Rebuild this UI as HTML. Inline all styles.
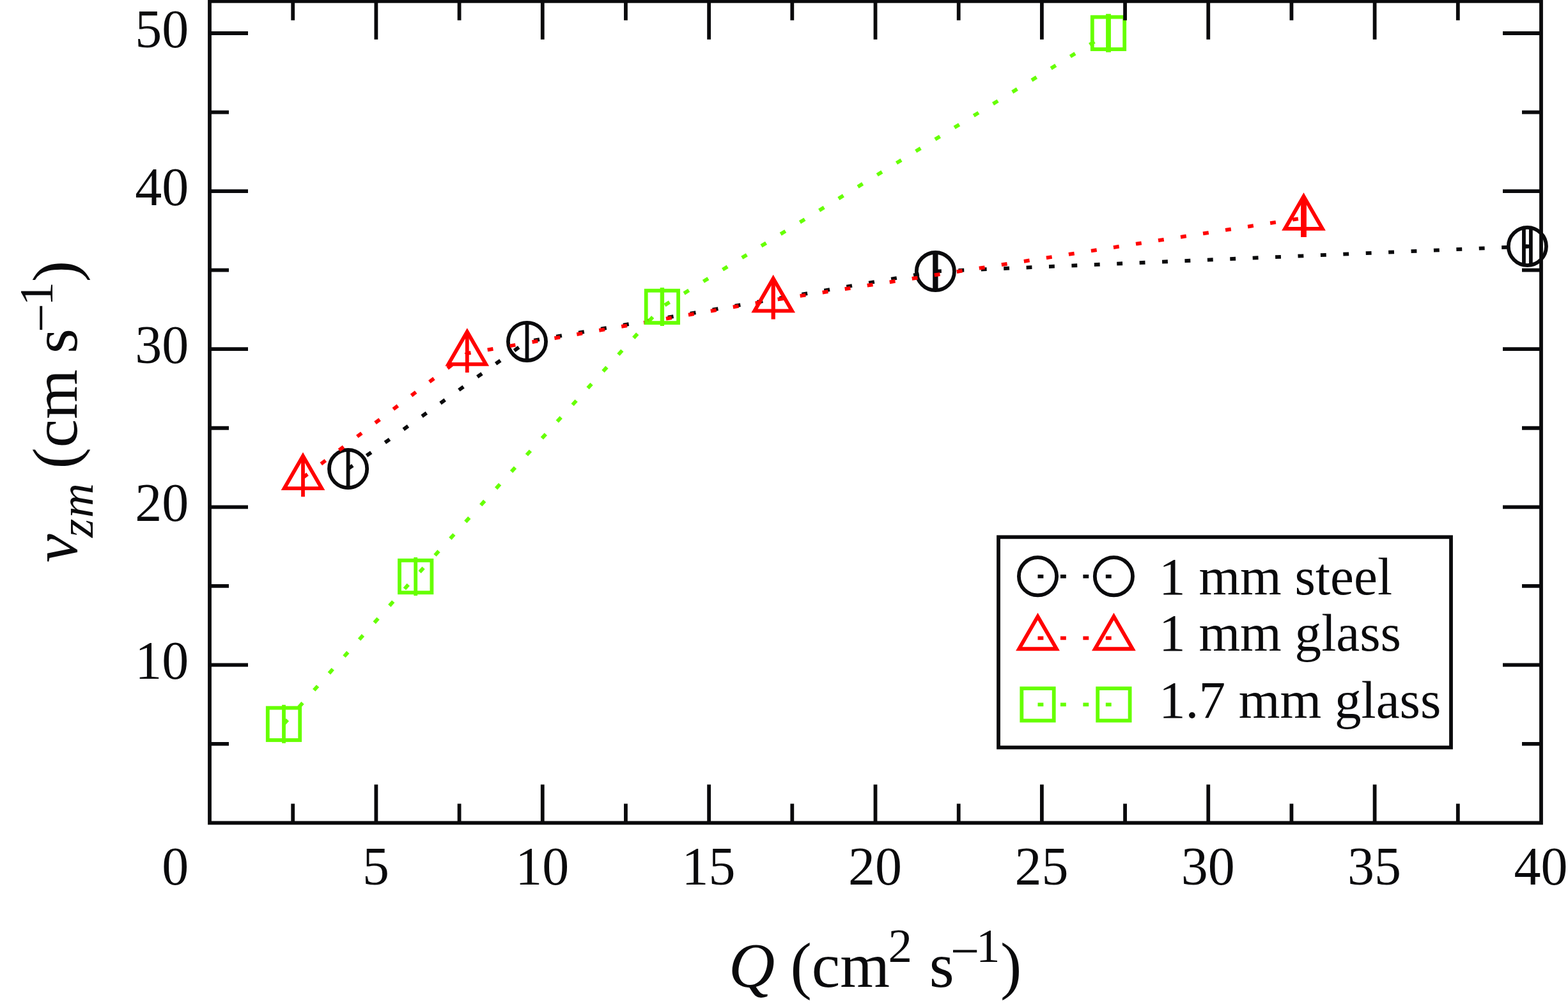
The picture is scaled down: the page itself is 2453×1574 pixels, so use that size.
<!DOCTYPE html>
<html lang="en"><head><meta charset="utf-8"><title>v_zm versus Q</title>
<style>html,body{margin:0;padding:0;background:#fff;}body{width:2453px;height:1574px;overflow:hidden;}svg{display:block;}text{font-family:"Liberation Serif",serif;fill:#0a0a0c;}</style></head><body>
<svg width="2453" height="1574" viewBox="0 0 2453 1574">
<rect x="0" y="0" width="2453" height="1574" fill="#ffffff"/>
<g id="series-steel">
<path d="M544.6 733.5 L824.5 534.4 L1463.4 424.6 L2389.4 385.5" fill="none" stroke="#0a0a0c" stroke-width="5.8" stroke-dasharray="8.86 26.58"/>
<path d="M544.6 703.5V763.5" fill="none" stroke="#0a0a0c" stroke-width="5.8"/>
<circle cx="544.6" cy="733.5" r="29.6" fill="none" stroke="#0a0a0c" stroke-width="5.8"/>
<path d="M824.5 504.4V564.4" fill="none" stroke="#0a0a0c" stroke-width="5.8"/>
<circle cx="824.5" cy="534.4" r="29.6" fill="none" stroke="#0a0a0c" stroke-width="5.8"/>
<path d="M1462.15 394.6V454.6 M1464.65 394.6V454.6 M1462.15 424.6H1464.65" fill="none" stroke="#0a0a0c" stroke-width="5.8"/>
<circle cx="1463.4" cy="424.6" r="29.6" fill="none" stroke="#0a0a0c" stroke-width="5.8"/>
<path d="M2383.95 355.5V415.5 M2394.85 355.5V415.5 M2383.95 385.5H2394.85" fill="none" stroke="#0a0a0c" stroke-width="5.8"/>
<circle cx="2389.4" cy="385.5" r="29.6" fill="none" stroke="#0a0a0c" stroke-width="5.8"/>
</g>
<g id="series-glass1">
<path d="M474 747.2 L730.8 552.9 L1209.7 469.5 L2039.5 341" fill="none" stroke="#ff0000" stroke-width="5.8" stroke-dasharray="8.86 26.58"/>
<path d="M474 717.2V777.2" fill="none" stroke="#ff0000" stroke-width="5.8"/>
<path d="M474 713.34L503.33 764.13L444.67 764.13Z" fill="none" stroke="#ff0000" stroke-width="5.8" stroke-linejoin="miter" stroke-miterlimit="10"/>
<path d="M730.8 522.9V582.9" fill="none" stroke="#ff0000" stroke-width="5.8"/>
<path d="M730.8 519.04L760.13 569.83L701.47 569.83Z" fill="none" stroke="#ff0000" stroke-width="5.8" stroke-linejoin="miter" stroke-miterlimit="10"/>
<path d="M1209.5 439.5V499.5 M1209.9 439.5V499.5 M1209.5 469.5H1209.9" fill="none" stroke="#ff0000" stroke-width="5.8"/>
<path d="M1209.7 435.64L1239.03 486.43L1180.37 486.43Z" fill="none" stroke="#ff0000" stroke-width="5.8" stroke-linejoin="miter" stroke-miterlimit="10"/>
<path d="M2038 311V371 M2041 311V371 M2038 341H2041" fill="none" stroke="#ff0000" stroke-width="5.8"/>
<path d="M2039.5 307.14L2068.83 357.93L2010.17 357.93Z" fill="none" stroke="#ff0000" stroke-width="5.8" stroke-linejoin="miter" stroke-miterlimit="10"/>
</g>
<g id="series-glass17">
<path d="M444 1132.8 L650.2 902 L1035.9 479.9 L1734 51.85" fill="none" stroke="#66ff00" stroke-width="5.8" stroke-dasharray="8.86 26.58"/>
<path d="M444 1102.8V1162.8" fill="none" stroke="#66ff00" stroke-width="5.8"/>
<rect x="418.8" y="1107.6" width="50.4" height="50.4" fill="none" stroke="#66ff00" stroke-width="5.8"/>
<path d="M650.2 872V932" fill="none" stroke="#66ff00" stroke-width="5.8"/>
<rect x="625" y="876.8" width="50.4" height="50.4" fill="none" stroke="#66ff00" stroke-width="5.8"/>
<path d="M1035.6 449.9V509.9 M1036.2 449.9V509.9 M1035.6 479.9H1036.2" fill="none" stroke="#66ff00" stroke-width="5.8"/>
<rect x="1010.7" y="454.7" width="50.4" height="50.4" fill="none" stroke="#66ff00" stroke-width="5.8"/>
<path d="M1733 21.85V81.85 M1735 21.85V81.85 M1733 51.85H1735" fill="none" stroke="#66ff00" stroke-width="5.8"/>
<rect x="1708.8" y="26.65" width="50.4" height="50.4" fill="none" stroke="#66ff00" stroke-width="5.8"/>
</g>
<g id="axes" fill="none" stroke="#0a0a0c" stroke-width="5.8">
<rect x="328" y="1.8" width="2083" height="1285.7"/>
<path d="M458.19 1287.5V1257.5 M458.19 1.8V31.8 M588.38 1287.5V1227.5 M588.38 1.8V61.8 M718.56 1287.5V1257.5 M718.56 1.8V31.8 M848.75 1287.5V1227.5 M848.75 1.8V61.8 M978.94 1287.5V1257.5 M978.94 1.8V31.8 M1109.12 1287.5V1227.5 M1109.12 1.8V61.8 M1239.31 1287.5V1257.5 M1239.31 1.8V31.8 M1369.5 1287.5V1227.5 M1369.5 1.8V61.8 M1499.69 1287.5V1257.5 M1499.69 1.8V31.8 M1629.88 1287.5V1227.5 M1629.88 1.8V61.8 M1760.06 1287.5V1257.5 M1760.06 1.8V31.8 M1890.25 1287.5V1227.5 M1890.25 1.8V61.8 M2020.44 1287.5V1257.5 M2020.44 1.8V31.8 M2150.62 1287.5V1227.5 M2150.62 1.8V61.8 M2280.81 1287.5V1257.5 M2280.81 1.8V31.8 M328 1163.95H358 M2411 1163.95H2381 M328 1040.4H388 M2411 1040.4H2351 M328 916.85H358 M2411 916.85H2381 M328 793.3H388 M2411 793.3H2351 M328 669.75H358 M2411 669.75H2381 M328 546.2H388 M2411 546.2H2351 M328 422.65H358 M2411 422.65H2381 M328 299.1H388 M2411 299.1H2351 M328 175.55H358 M2411 175.55H2381 M328 52H388 M2411 52H2351"/>
</g>
<g id="ticklabels" font-size="84">
<text x="295.3" y="1062.4" text-anchor="end">10</text>
<text x="295.3" y="815.3" text-anchor="end">20</text>
<text x="295.3" y="568.2" text-anchor="end">30</text>
<text x="295.3" y="321.1" text-anchor="end">40</text>
<text x="295.3" y="74" text-anchor="end">50</text>
<text x="295.3" y="1384.4" text-anchor="end">0</text>
<text x="587.88" y="1384.4" text-anchor="middle">5</text>
<text x="848.25" y="1384.4" text-anchor="middle">10</text>
<text x="1108.62" y="1384.4" text-anchor="middle">15</text>
<text x="1369" y="1384.4" text-anchor="middle">20</text>
<text x="1629.38" y="1384.4" text-anchor="middle">25</text>
<text x="1889.75" y="1384.4" text-anchor="middle">30</text>
<text x="2150.12" y="1384.4" text-anchor="middle">35</text>
<text x="2410.5" y="1384.4" text-anchor="middle">40</text>
</g>
<text id="xlabel" font-size="100" xml:space="preserve"><tspan x="1140" y="1543.6" font-style="italic">Q</tspan><tspan x="1211.5" y="1543.6"> (cm</tspan><tspan x="1389.5" y="1505.4" font-size="75">2</tspan><tspan x="1428.8" y="1543.6"> s</tspan><tspan x="1486.9" y="1515.3" font-size="80">−</tspan><tspan x="1527" y="1505.4" font-size="75">1</tspan><tspan x="1565" y="1543.6">)</tspan></text>
<text id="ylabel" transform="translate(119.5 880) rotate(-90)" font-size="100" xml:space="preserve"><tspan x="0" y="0" font-style="italic">v</tspan><tspan x="39" y="25.5" font-size="75" font-style="italic" letter-spacing="1.5">zm</tspan><tspan x="121.5" y="0"> (cm s</tspan><tspan x="360.1" y="-28.3" font-size="80">−</tspan><tspan x="401.4" y="-37.3" font-size="75">1</tspan><tspan x="438.85" y="0">)</tspan></text>
<g id="legend">
<rect x="1562" y="840.3" width="708" height="329.2" fill="#ffffff" stroke="#0a0a0c" stroke-width="5.8"/>
<path d="M1623.5 901.8H1742.4" fill="none" stroke="#0a0a0c" stroke-width="5.8" stroke-dasharray="8.86 26.58"/>
<circle cx="1623.5" cy="901.8" r="29.6" fill="none" stroke="#0a0a0c" stroke-width="5.8"/>
<circle cx="1742.4" cy="901.8" r="29.6" fill="none" stroke="#0a0a0c" stroke-width="5.8"/>
<text x="1813" y="930" font-size="83.2">1 mm steel</text>
<path d="M1623.5 998.3H1742.4" fill="none" stroke="#ff0000" stroke-width="5.8" stroke-dasharray="8.86 26.58"/>
<path d="M1623.5 964.44L1652.83 1015.23L1594.17 1015.23Z" fill="none" stroke="#ff0000" stroke-width="5.8" stroke-linejoin="miter" stroke-miterlimit="10"/>
<path d="M1742.4 964.44L1771.73 1015.23L1713.07 1015.23Z" fill="none" stroke="#ff0000" stroke-width="5.8" stroke-linejoin="miter" stroke-miterlimit="10"/>
<text x="1813" y="1018" font-size="83.2">1 mm glass</text>
<path d="M1623.5 1102.3H1742.4" fill="none" stroke="#66ff00" stroke-width="5.8" stroke-dasharray="8.86 26.58"/>
<rect x="1598.3" y="1077.1" width="50.4" height="50.4" fill="none" stroke="#66ff00" stroke-width="5.8"/>
<rect x="1717.2" y="1077.1" width="50.4" height="50.4" fill="none" stroke="#66ff00" stroke-width="5.8"/>
<text x="1813" y="1122.8" font-size="83.2">1.7 mm glass</text>
</g>
</svg>
</body></html>
